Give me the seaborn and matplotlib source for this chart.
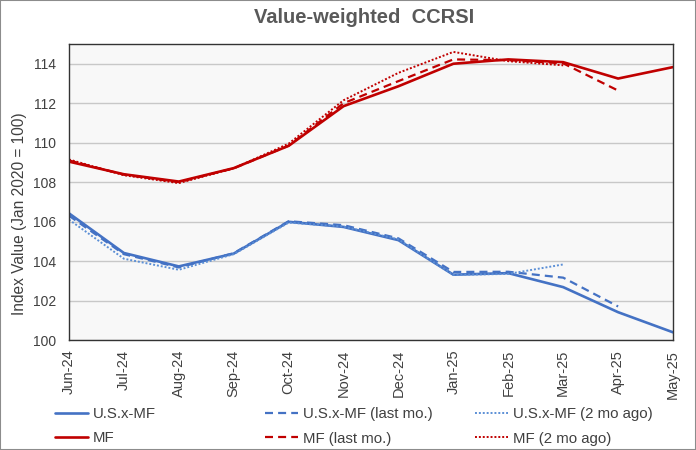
import pandas as pd
import matplotlib
matplotlib.use("Agg")
import matplotlib.pyplot as plt
from matplotlib.ticker import MultipleLocator
from matplotlib.patches import Rectangle
import seaborn as sns

sns.set_style("white")
plt.rcParams["font.family"] = ["Liberation Sans", "DejaVu Sans"]

months = ["Jun-24", "Jul-24", "Aug-24", "Sep-24", "Oct-24", "Nov-24",
          "Dec-24", "Jan-25", "Feb-25", "Mar-25", "Apr-25", "May-25"]

us_xmf = [106.42, 104.41, 103.73, 104.38, 105.99, 105.73, 105.06, 103.31, 103.39, 102.68, 101.41, 100.39]
us_xmf_last = [106.30, 104.35, 103.68, 104.40, 106.02, 105.82, 105.15, 103.45, 103.46, 103.16, 101.70]
us_xmf_2mo = [106.10, 104.12, 103.56, 104.35, 105.95, 105.75, 105.10, 103.30, 103.35, 103.83]
mf = [109.04, 108.40, 108.03, 108.71, 109.84, 111.85, 112.86, 114.00, 114.22, 114.08, 113.25, 113.83]
mf_last = [109.10, 108.38, 108.00, 108.70, 109.85, 112.00, 113.12, 114.22, 114.18, 114.02, 112.64]
mf_2mo = [109.15, 108.35, 107.95, 108.70, 109.95, 112.15, 113.54, 114.60, 114.13, 113.92]

blue = "#4472C4"
blue_light = "#5B8FD6"
red = "#C00000"

series = [
    ("U.S.x-MF", us_xmf, blue, "-", 1.9),
    ("MF", mf, red, "-", 1.9),
    ("U.S.x-MF (last mo.)", us_xmf_last, blue, (0, (3.6, 2.3)), 1.6),
    ("MF (last mo.)", mf_last, red, (0, (3.6, 2.3)), 1.6),
    ("U.S.x-MF (2 mo ago)", us_xmf_2mo, blue_light, (0, (1, 1)), 1.4),
    ("MF (2 mo ago)", mf_2mo, red, (0, (1, 1)), 1.4),
]

fig = plt.figure(figsize=(6.96, 4.5), dpi=100)
ax = fig.add_axes([0.0991, 0.2444, 0.8679, 0.6578])
ax.set_facecolor("#F8F8F8")

handles = {}
for name, vals, color, ls, lw in series:
    d = pd.DataFrame({"x": range(len(vals)), "y": vals})
    sns.lineplot(data=d, x="x", y="y", ax=ax, color=color, linestyle=ls,
                 linewidth=lw, label=name, legend=False)
    handles[name] = ax.lines[-1]

ax.set_xlim(0, len(months) - 1)
ax.set_ylim(100, 115)
ax.set_xticks(range(len(months)))
ax.set_xticklabels(months, rotation=90)
ax.yaxis.set_major_locator(MultipleLocator(2))
ax.yaxis.set_minor_locator(MultipleLocator(0.5))
ax.grid(axis="y", which="major", color="#C8C8C8", linewidth=1)
ax.set_axisbelow(True)
ax.tick_params(axis="both", which="both", direction="in", colors="#333333",
               labelcolor="#404040")
ax.tick_params(axis="x", length=5, pad=7, labelsize=10.5)
ax.tick_params(axis="y", which="major", length=0, pad=9, labelsize=10)
ax.tick_params(axis="y", which="minor", length=3)
for s in ax.spines.values():
    s.set_color("#333333")
    s.set_linewidth(1)
ax.set_xlabel("")
ax.set_ylabel("Index Value (Jan 2020 = 100)", fontsize=11.2, color="#404040")
ax.yaxis.set_label_coords(-0.070, 0.426)

fig.text(0.523, 0.961, "Value-weighted  CCRSI", ha="center", va="center",
         fontsize=14.5, fontweight="bold", color="#595959")

cols = [
    (55, ["U.S.x-MF", "MF"]),
    (265, ["U.S.x-MF (last mo.)", "MF (last mo.)"]),
    (475, ["U.S.x-MF (2 mo ago)", "MF (2 mo ago)"]),
]
for x0, names in cols:
    fig.legend([handles[n] for n in names], names, loc="upper left",
               bbox_to_anchor=(x0 / 696, 1 - 407 / 450), frameon=False,
               fontsize=10.8, borderpad=0, borderaxespad=0, handlelength=2.2,
               handletextpad=0.32, labelspacing=0.7, labelcolor="#404040")

fig.patches.append(Rectangle((0, 0), 1, 1, transform=fig.transFigure,
                             fill=False, edgecolor="#8C8C8C", linewidth=1.5))

fig.savefig("out.png", dpi=100)
